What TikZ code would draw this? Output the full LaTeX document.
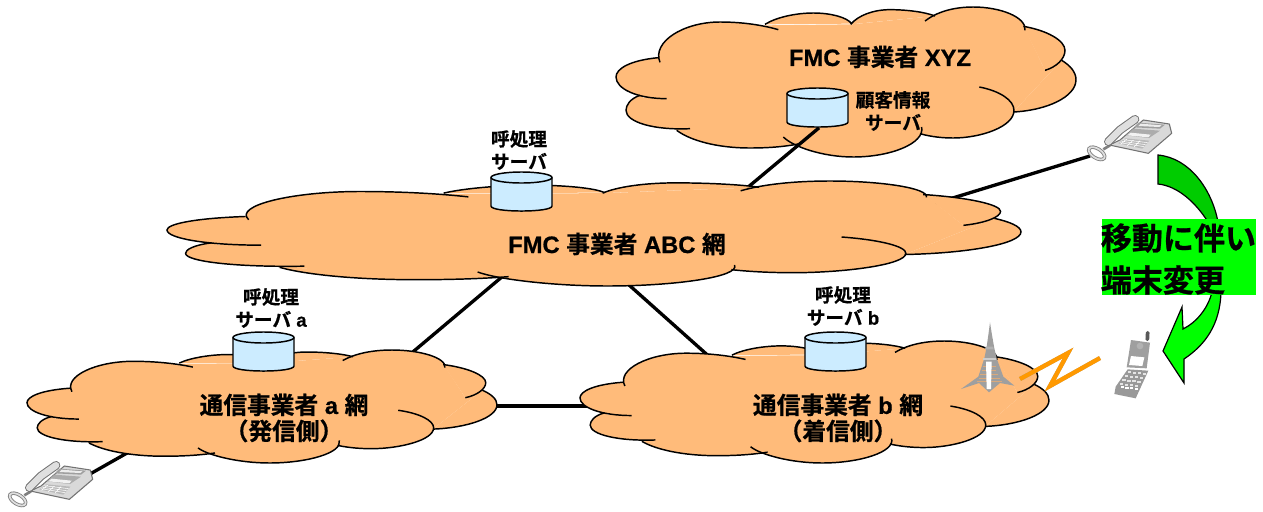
\documentclass[tikz,border=0pt]{standalone}
\usepackage{fontspec}
\setmainfont{Liberation Sans}[BoldFont={Liberation Sans Bold},BoldFeatures={FakeBold=0.7}]
\newfontfamily\cjk{Noto Sans CJK JP}[BoldFont={Noto Sans CJK JP Bold},BoldFeatures={FakeBold=0.8}]
\definecolor{cloudfill}{HTML}{FFBB7A}
\definecolor{srvfill}{HTML}{CCECFF}
\definecolor{darkgr}{HTML}{00CC00}
\definecolor{lightgr}{HTML}{00FF00}
\definecolor{zap}{HTML}{FF9900}
\tikzset{
  link/.style={line width=2.5pt,black},
  lobe/.style={line width=1.1pt,black},
  small/.style={font=\fontsize{14}{17}\selectfont\bfseries,align=center,inner sep=0pt},
  big/.style={font=\fontsize{17.8}{19.5}\selectfont\bfseries,align=center,inner sep=0pt},
  huge/.style={font=\fontsize{23.3}{31.5}\selectfont\bfseries\cjk,align=left,inner sep=0pt},
  bandline/.style={line width=0.9pt,black,line join=miter},
}
\newcommand{\cloudshape}[5]{%
\begin{scope}[shift={(#2,#3)},xscale=#4/1380,yscale=#5/450,shift={(-18,-20)}]
 \fill[cloudfill] (145,175)--(465,75)--(725,72)--(975,47)--(1245,85)--(1305,210)--(1355,180)--(1210,335)--(930,400)--(730,440)--(420,420)--(200,390)--(100,300)--cycle;
 \fill[cloudfill] (145,172) .. controls (60,180) and (18,205) .. (18,230) .. controls (18,265) and (80,295) .. (170,295)--cycle;
 \fill[cloudfill] (150,186) .. controls (125,125) and (220,65) .. (330,65) .. controls (400,65) and (460,75) .. (505,88)--cycle;
 \fill[cloudfill] (465,72) .. controls (500,50) and (560,38) .. (610,38) .. controls (660,38) and (710,50) .. (725,70)--cycle;
 \fill[cloudfill] (722,72) .. controls (745,45) and (790,28) .. (840,28) .. controls (890,28) and (945,35) .. (975,47)--cycle;
 \fill[cloudfill] (945,62) .. controls (980,35) and (1030,20) .. (1090,20) .. controls (1170,20) and (1250,50) .. (1245,90)--cycle;
 \fill[cloudfill] (1240,78) .. controls (1310,90) and (1365,120) .. (1365,150) .. controls (1365,175) and (1340,200) .. (1305,210)--cycle;
 \fill[cloudfill] (1355,180) .. controls (1380,195) and (1398,215) .. (1398,238) .. controls (1398,290) and (1310,330) .. (1210,335)--cycle;
 \fill[cloudfill] (1108,260) .. controls (1170,272) and (1212,300) .. (1212,330) .. controls (1212,380) and (1110,413) .. (1030,413) .. controls (1000,413) and (965,410) .. (930,400)--cycle;
 \fill[cloudfill] (935,380) .. controls (945,430) and (840,470) .. (730,470) .. controls (640,470) and (550,440) .. (520,410)--cycle;
 \fill[cloudfill] (570,430) .. controls (520,440) and (470,443) .. (420,443) .. controls (320,443) and (240,420) .. (200,390)--cycle;
 \fill[cloudfill] (90,285) .. controls (60,295) and (48,315) .. (48,330) .. controls (48,365) and (130,390) .. (240,385)--cycle;
 \draw[lobe] (145,172) .. controls (60,180) and (18,205) .. (18,230) .. controls (18,265) and (80,295) .. (170,295);
 \draw[lobe] (150,186) .. controls (125,125) and (220,65) .. (330,65) .. controls (400,65) and (460,75) .. (505,88);
 \draw[lobe] (465,72) .. controls (500,50) and (560,38) .. (610,38) .. controls (660,38) and (710,50) .. (725,70);
 \draw[lobe] (722,72) .. controls (745,45) and (790,28) .. (840,28) .. controls (890,28) and (945,35) .. (975,47);
 \draw[lobe] (945,62) .. controls (980,35) and (1030,20) .. (1090,20) .. controls (1170,20) and (1250,50) .. (1245,90);
 \draw[lobe] (1240,78) .. controls (1310,90) and (1365,120) .. (1365,150) .. controls (1365,175) and (1340,200) .. (1305,210);
 \draw[lobe] (1355,180) .. controls (1380,195) and (1398,215) .. (1398,238) .. controls (1398,290) and (1310,330) .. (1210,335);
 \draw[lobe] (1108,260) .. controls (1170,272) and (1212,300) .. (1212,330) .. controls (1212,380) and (1110,413) .. (1030,413) .. controls (1000,413) and (965,410) .. (930,400);
 \draw[lobe] (935,380) .. controls (945,430) and (840,470) .. (730,470) .. controls (640,470) and (550,440) .. (520,410);
 \draw[lobe] (570,430) .. controls (520,440) and (470,443) .. (420,443) .. controls (320,443) and (240,420) .. (200,390);
 \draw[lobe] (90,285) .. controls (60,295) and (48,315) .. (48,330) .. controls (48,365) and (130,390) .. (240,385);
\end{scope}
\node (#1) at (#2+#4/2,#3+#5/2) [inner sep=0pt] {};
}
% name, centre x, top y, bottom y
\newcommand{\srv}[4]{%
 \fill[srvfill] (#2-30.5,#3+6) -- (#2-30.5,#4-5) .. controls (#2-30.5,#4+1.7) and (#2+30.5,#4+1.7) .. (#2+30.5,#4-5) -- (#2+30.5,#3+6) -- cycle;
 \draw[lobe] (#2-30.5,#3+6) -- (#2-30.5,#4-5) .. controls (#2-30.5,#4+1.7) and (#2+30.5,#4+1.7) .. (#2+30.5,#4-5) -- (#2+30.5,#3+6);
 \draw[lobe,fill=srvfill] (#2,#3+5.5) ellipse [x radius=30.5,y radius=5.5];
 \node (#1) at (#2,#3/2+#4/2) [inner sep=0pt,minimum width=46pt,minimum height=29pt] {};
}
\newcommand{\phone}[3]{%
\begin{scope}[shift={(#2,#3)},scale=1/3]
 \draw[gray,line width=2.6pt] (50,130) ellipse [x radius=27,y radius=14,rotate=-32];
 \draw[gray!25,line width=1.3pt] (50,130) ellipse [x radius=27,y radius=14,rotate=-32];
 \draw[gray,line width=2pt] (70,118) -- (90,106);
 \draw[gray!90!black,fill=gray!30,line width=.8pt,line join=round] (88,105) -- (205,130) -- (275,70) -- (268,42) -- (190,30) -- (120,90) -- cycle;
 \fill[gray!75] (175,38) -- (255,44) -- (240,56) -- (162,52) -- cycle;
 \fill[gray!15] (182,41) -- (245,46) -- (238,51) -- (175,48) -- cycle;
 \fill[gray!65] (160,56) -- (240,62) -- (207,84) -- (138,76) -- cycle;
 \fill[gray!10] (152,68) -- (212,74) -- (205,82) -- (142,76) -- cycle;
 \fill[gray!55] (115,100) -- (136,85) -- (208,92) -- (187,116) -- cycle;
 \draw[white,line width=.4pt] (125,94) -- (197,104) (130,89) -- (203,98) (120,98) -- (192,110) (140,87) -- (122,103) (160,90) -- (142,107) (180,92) -- (162,111);
 \draw[gray!90!black,line width=6.5pt,line cap=round] (85,95) -- (120,60) -- (165,28);
 \draw[gray!25,line width=5pt,line cap=round] (85,95) -- (120,60) -- (165,28);
\end{scope}
\node (#1) at (#2+60,#3+30) [inner sep=0pt] {};
}
\begin{document}
\begin{tikzpicture}[x=0.75pt,y=-0.75pt]
\useasboundingbox (0,0) rectangle (1263,511);
\cloudshape{cXYZ}{616}{7}{460}{150}
\coordinate (abcUp) at (735,198);
\coordinate (abcRight) at (920,208);
\coordinate (abcDownL) at (522,260);
\coordinate (abcDownR) at (610,268);
\coordinate (aUp) at (395,367);
\coordinate (bUp) at (722,368);
\coordinate (aRight) at (470,406);
\coordinate (bLeft) at (610,406);
\coordinate (aLow) at (150,440);
\coordinate (phoneTopEnd) at (1090,156);
\coordinate (phoneLowEnd) at (90,474);
\node (srvXanchor) at (820,127) [inner sep=0pt] {};
\draw[link] (srvXanchor) -- (abcUp);
\draw[link] (abcRight) -- (phoneTopEnd);
\draw[link] (abcDownL) -- (aUp);
\draw[link] (abcDownR) -- (bUp);
\draw[link] (aRight) -- (bLeft);
\draw[link] (aLow) -- (phoneLowEnd);
\cloudshape{cABC}{167}{181}{854}{105}
\cloudshape{cA}{27}{350}{470}{113}
\cloudshape{cB}{580}{341}{469}{122}
\srv{srvX}{817.5}{88}{127}
\srv{srvABC}{521.5}{172}{211}
\srv{srvA}{263.5}{332}{371}
\srv{srvB}{835.5}{332}{371}

\node[big] (tXYZ) at (880,57) {FMC {\cjk 事業者} XYZ};
\node[small] (tKokyaku) at (893,111) {\cjk 顧客情報\\\cjk サーバ};
\node[small] (tABCs) at (519,150) {\cjk 呼処理\\\cjk サーバ};
\node[big] (tABC) at (617,244) {FMC {\cjk 事業者} ABC {\cjk 網}};
\node[small] (tAs) at (271,308) {\cjk 呼処理\\{\cjk サーバ} a};
\node[small] (tBs) at (843,306) {\cjk 呼処理\\{\cjk サーバ} b};
\node[big] (tA) at (284,418) {{\cjk 通信事業者} a {\cjk 網}\\{\cjk （発信側）}};
\node[big] (tB) at (838,418) {{\cjk 通信事業者} b {\cjk 網}\\{\cjk （着信側）}};

% phones
\phone{phoneTop}{1080}{110}
\phone{phoneLow}{1}{456}

% tower
\begin{scope}[shift={(955,315)},scale=1/3]
 \fill[gray!75] (105,22) -- (111,60) -- (118,100) -- (125,130) -- (145,185) -- (178,212) -- (135,204) -- (102,232) -- (72,204) -- (18,222) -- (70,185) -- (88,130) -- (95,95) -- (100,60) -- cycle;
 \draw[cloudfill!70!gray,line width=.75pt] (66,200) -- (140,200) (72,190) -- (134,190) (76,178) -- (128,178) (80,166) -- (124,166) (84,154) -- (122,154);
 \fill[white] (93,140) -- (110,140) -- (108,222) -- (95,222) -- cycle;
 \draw[gray!40,line width=.8pt] (84,132) -- (122,132);
 \fill[gray!60] (92,95) -- (114,95) -- (116,103) -- (90,103) -- cycle;
\end{scope}
\node (tower) at (988,360) [inner sep=0pt] {};

% zigzag
\coordinate (z1) at (1020,379);
\coordinate (z2) at (1068,353);
\coordinate (z3) at (1050,386);
\coordinate (z4) at (1100,358);
\draw[gray!70,line width=3.2pt,line join=miter,shift={(1.8,1.8)}] (z1) -- (z2) -- (z3) -- (z4);
\draw[zap,line width=3.2pt,line join=miter] (z1) -- (z2) -- (z3) -- (z4);

% mobile
\begin{scope}[shift={(1105,330)},scale=1/3]
 \draw[gray!70!black,line width=2.8pt,line cap=round] (128,8) -- (127,28);
 \fill[gray!80] (68,118) -- (130,122) -- (92,205) -- (28,192) -- (32,170) -- cycle;
 \foreach \r in {0,1,2,3}{\foreach \c in {0,1,2,3}{
   \fill[gray!20] ({68+\c*15-\r*8},{130+\r*12+\c*1.5}) rectangle +(10,-6);}}
 \foreach \c in {0,1,2,3}{\fill[white] ({47+\c*14},{175+\c*1.5}) rectangle +(10,-6);}
 \fill[gray!75] (78,30) -- (135,38) -- (125,115) -- (65,112) -- cycle;
 \fill[gray!60] (105,48) circle [radius=10];
 \fill[white] (78,78) -- (118,82) -- (112,108) -- (72,105) -- cycle;
\end{scope}
\node (mobile) at (1131,372) [inner sep=0pt] {};

% change arrow
\draw[bandline,fill=darkgr] (1158,155) .. controls (1190,158) and (1212,190) .. (1218,222) -- (1208,222) .. controls (1196,203) and (1178,186) .. (1158,184) -- cycle;
\draw[bandline,fill=lightgr] (1221,292) .. controls (1220,325) and (1205,345) .. (1184,359) -- (1184,383) -- (1163,351) -- (1182,307) -- (1183,329) .. controls (1197,322) and (1208,308) .. (1212,292) -- cycle;
\node (gbox) [fill=lightgr,inner sep=0pt,minimum width=115.5pt,minimum height=57pt,anchor=north west] at (1102,219) {};
\node[huge,anchor=west] (tMove) at (1100.5,259) {移動に伴い\\端末変更};
\end{tikzpicture}
\end{document}
